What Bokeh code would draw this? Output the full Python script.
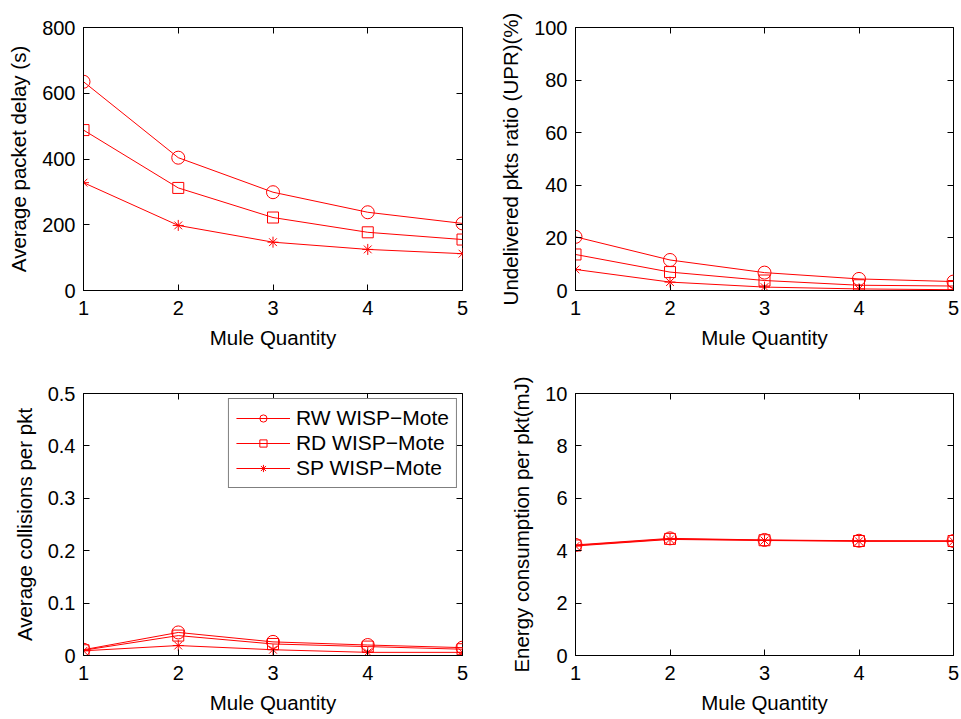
from bokeh.plotting import figure
from bokeh.layouts import gridplot
from bokeh.models import (Range1d, LinearAxis, FixedTicker, PrintfTickFormatter,
                          Legend, LegendItem)
from bokeh.embed import file_html
from bokeh.resources import INLINE

# Mule quantity on the x axis
mules = [1, 2, 3, 4, 5]
series_names = ["RW WISP\u2212Mote", "RD WISP\u2212Mote", "SP WISP\u2212Mote"]

# Average packet delay (s)
delay_rw = [635, 404, 299, 238, 204]
delay_rd = [488, 312, 222, 177, 155]
delay_sp = [328, 198, 147, 125, 112]

# Undelivered packets ratio (%)
upr_rw = [20.4, 11.6, 6.8, 4.4, 3.4]
upr_rd = [13.7, 7.0, 3.8, 2.0, 1.7]
upr_sp = [8.0, 3.2, 1.3, 0.6, 0.3]

# Average collisions per packet
coll_rw = [0.011, 0.044, 0.026, 0.020, 0.015]
coll_rd = [0.010, 0.038, 0.022, 0.017, 0.012]
coll_sp = [0.009, 0.019, 0.011, 0.006, 0.006]

# Energy consumption per packet (mJ)
energy_rw = [4.22, 4.47, 4.41, 4.38, 4.37]
energy_rd = [4.20, 4.45, 4.40, 4.37, 4.37]
energy_sp = [4.18, 4.43, 4.39, 4.36, 4.36]

FONT = "Liberation Sans"
TICK_SIZE = "20px"
LABEL_SIZE = "20.5px"
LEGEND_SIZE = "21px"
RED = "#ff0000"
MARKERS = ["circle", "square", "asterisk"]
MARKER_SIZES = [13, 11, 11]


def style_axis(ax):
    ax.major_tick_in = 6
    ax.major_tick_out = 0
    ax.minor_tick_line_color = None
    ax.axis_line_color = "black"
    ax.major_tick_line_color = "black"
    ax.major_label_text_font = FONT
    ax.major_label_text_font_size = TICK_SIZE
    ax.major_label_text_color = "black"
    ax.axis_label_text_font = FONT
    ax.axis_label_text_font_size = LABEL_SIZE
    ax.axis_label_text_font_style = "normal"
    ax.axis_label_text_color = "black"


def tick_only_axis(ticks):
    # mirrored axis on the opposite side: inward ticks, no labels
    ax = LinearAxis(ticker=FixedTicker(ticks=ticks))
    ax.major_tick_in = 6
    ax.major_tick_out = 0
    ax.minor_tick_line_color = None
    ax.axis_line_color = None
    ax.major_tick_line_color = "black"
    ax.major_label_overrides = {t: "" for t in ticks}
    ax.major_label_standoff = 0
    return ax


def panel(width, height, borders, ymax, yticks, ylabel, data, legend=False):
    left, right, top, bottom = borders
    p = figure(width=width, height=height, output_backend="svg",
               toolbar_location=None,
               x_range=Range1d(1, 5), y_range=Range1d(0, ymax),
               min_border_left=left, min_border_right=right,
               min_border_top=top, min_border_bottom=bottom)
    p.grid.visible = False
    p.outline_line_color = "black"
    p.outline_line_width = 1
    p.background_fill_color = "white"
    p.border_fill_color = "white"

    p.xaxis.ticker = FixedTicker(ticks=mules)
    p.yaxis.ticker = FixedTicker(ticks=yticks)
    p.yaxis.formatter = PrintfTickFormatter(format="%g")
    p.xaxis.axis_label = "Mule Quantity"
    p.yaxis.axis_label = ylabel
    style_axis(p.xaxis[0])
    style_axis(p.yaxis[0])
    p.xaxis.major_label_standoff = 10
    p.xaxis.axis_label_standoff = 8
    p.yaxis.major_label_standoff = 8
    p.yaxis.axis_label_standoff = 9

    p.add_layout(tick_only_axis(mules), "above")
    p.add_layout(tick_only_axis(yticks), "right")

    items = []
    for name, ys, mk, ms in zip(series_names, data, MARKERS, MARKER_SIZES):
        ln = p.line(mules, ys, line_color=RED, line_width=1)
        sc = p.scatter(mules, ys, marker=mk, size=ms, line_color=RED,
                       fill_color=None, line_width=1)
        items.append(LegendItem(label=name, renderers=[ln, sc]))

    if legend:
        lg = Legend(items=items, location="top_right")
        lg.label_text_font = FONT
        lg.label_text_font_size = LEGEND_SIZE
        lg.label_text_color = "black"
        lg.glyph_width = 54
        lg.glyph_height = 18
        lg.label_standoff = 6
        lg.label_height = 18
        lg.spacing = 1
        lg.padding = 7
        lg.margin = 5
        lg.border_line_color = "black"
        lg.border_line_width = 1
        lg.background_fill_alpha = 1
        p.add_layout(lg, "center")
    return p


p1 = panel(480, 360, (83, 18, 27, 70), 800, [0, 200, 400, 600, 800],
           "Average packet delay (s)", [delay_rw, delay_rd, delay_sp])
p2 = panel(481, 360, (95, 8, 27, 70), 100, [0, 20, 40, 60, 80, 100],
           "Undelivered pkts ratio (UPR)(%)", [upr_rw, upr_rd, upr_sp])
p3 = panel(480, 359, (83, 18, 33, 64), 0.5, [0, 0.1, 0.2, 0.3, 0.4, 0.5],
           "Average collisions per pkt", [coll_rw, coll_rd, coll_sp], legend=True)
p4 = panel(481, 359, (95, 8, 33, 64), 10, [0, 2, 4, 6, 8, 10],
           "Energy consumption per pkt(mJ)", [energy_rw, energy_rd, energy_sp])

grid = gridplot([[p1, p2], [p3, p4]], toolbar_location=None)

open("out.html", "w").write(file_html(grid, INLINE))
